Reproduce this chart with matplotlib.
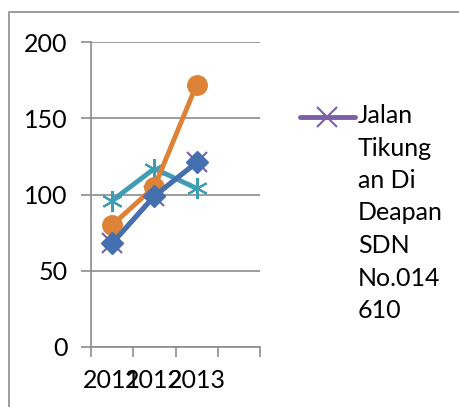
import matplotlib.pyplot as plt
from matplotlib.patches import Rectangle
from matplotlib.lines import Line2D

years = ['2011', '2012', '2013']
teal_vals = [96, 117, 104]
purple_vals = [68, 99, 121]
orange_vals = [80, 105, 172]
blue_vals = [68, 99, 121]
legend_label = 'Jalan\nTikung\nan Di\nDeapan\nSDN\nNo.014\n610'

plt.rcParams['font.family'] = ['Lato', 'DejaVu Sans']

fig = plt.figure(figsize=(4.59, 4.07), dpi=100)
# outer chart frame (cropped at right/bottom)
fig.patches.append(Rectangle((9 / 459, -0.1), 1.0, 1 - 12 / 407 + 0.1,
                             transform=fig.transFigure, fill=False,
                             edgecolor='#8c8c8c', lw=1.2))

ax = fig.add_axes([91 / 459, 60 / 407, 169 / 459, 305 / 407])
x = list(range(len(years)))

ax.plot(x, teal_vals, color='#3E9DB5', lw=3.5, marker=(6, 2, 0),
        markersize=15, markeredgewidth=1.5, zorder=3)
ax.plot(x, purple_vals, color='#7B5EA7', lw=3.5, marker='x',
        markersize=14, markeredgewidth=1.5, zorder=4)
ax.plot(x, orange_vals, color='#DD8236', lw=3.5, marker='o',
        markersize=14, zorder=5)
ax.plot(x, blue_vals, color='#4470B0', lw=3.5, marker='D',
        markersize=11, zorder=6)

ax.set_xlim(-0.5, 3.5)
ax.set_ylim(0, 200)
ax.set_yticks([0, 50, 100, 150, 200])
ax.set_xticks([-0.5, 0.5, 1.5, 2.5, 3.5], minor=False)
ax.set_xticklabels([])
ax.set_xticks(x, minor=True)
ax.set_xticklabels(years, minor=True, fontsize=18)
ax.tick_params(axis='x', which='minor', length=0, pad=16)
ax.tick_params(axis='x', which='major', length=7, width=1.2,
               color='#8c8c8c', direction='out')
ax.tick_params(axis='y', length=7, width=1.2, color='#8c8c8c',
               labelsize=18, pad=10)
ax.grid(axis='y', color='#8c8c8c', lw=1.2)
for side in ['top', 'right']:
    ax.spines[side].set_visible(False)
for side in ['left', 'bottom']:
    ax.spines[side].set_color('#8c8c8c')
    ax.spines[side].set_linewidth(1.2)
ax.set_axisbelow(True)

# legend (only the purple series is visible in the reference)
ly = 1 - 117 / 407
fig.add_artist(Line2D([300 / 459, 355 / 459], [ly, ly], color='#7B5EA7',
                      lw=3.5, solid_capstyle='round',
                      transform=fig.transFigure))
fig.add_artist(Line2D([327 / 459], [ly], color='#7B5EA7', marker='x',
                      markersize=14, markeredgewidth=1.5,
                      transform=fig.transFigure))
fig.text(358 / 459, 1 - 104 / 407, legend_label, fontsize=18,
         ha='left', va='top', linespacing=1.5)

fig.savefig('out.png', dpi=100)
